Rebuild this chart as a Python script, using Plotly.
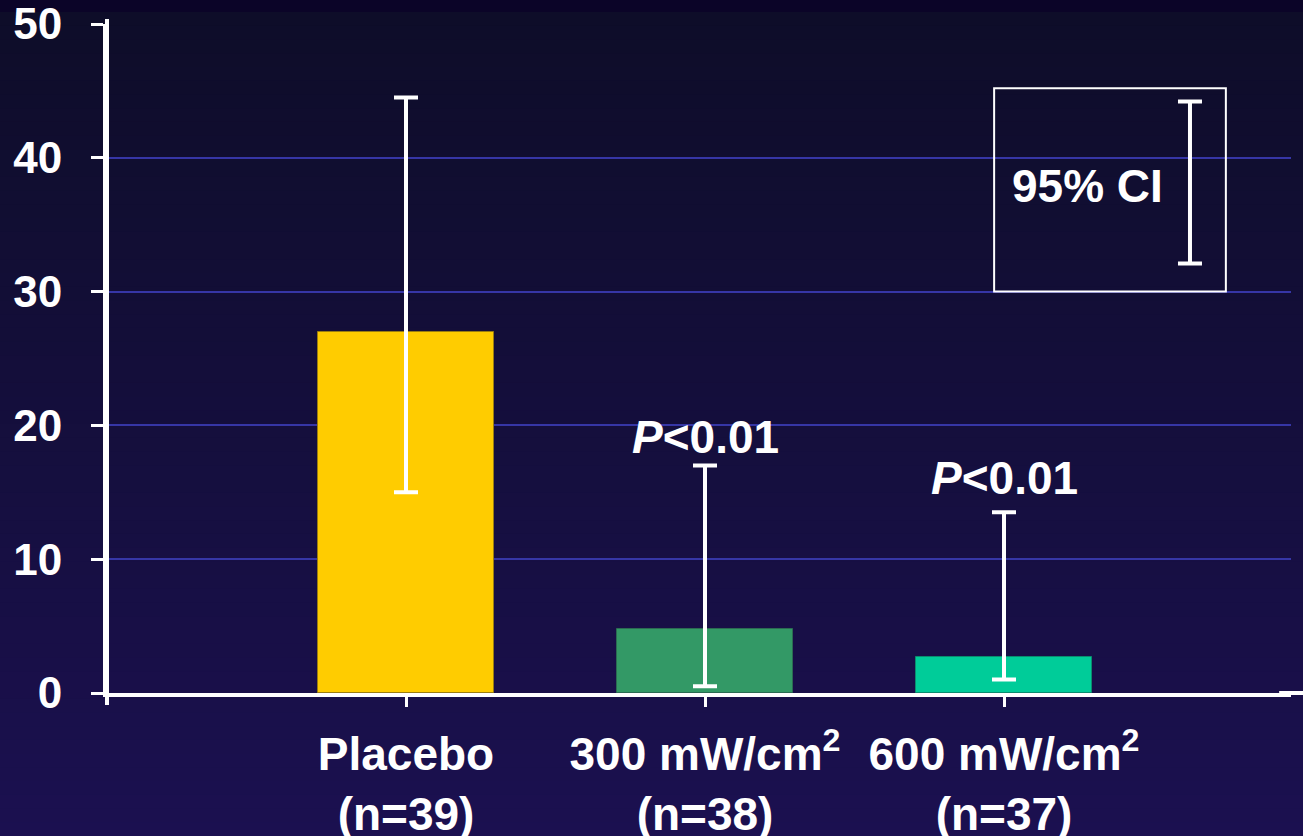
import plotly.graph_objects as go

# ---- data ----
groups = ["Placebo", "300 mW/cm<sup>2</sup>", "600 mW/cm<sup>2</sup>"]
n_sizes = [39, 38, 37]
means = [27.0, 4.8, 2.7]
ci_low = [15.0, 0.5, 1.0]
ci_high = [44.5, 17.0, 13.5]
bar_colors = ["#FFCC00", "#339966", "#00CC99"]
bar_edges = ["#9a7d10", "#2b6b52", "#0b8c6e"]
p_labels = ["", "<i>P</i><0.01", "<i>P</i><0.01"]
p_label_y = [None, 19.1, 16.1]
y_ticks = [0, 10, 20, 30, 40, 50]
legend_ci = [32.1, 44.2]   # sample CI bar in the key box
legend_box = [30.0, 45.2]

x_pos = [1, 2, 3]
W, H = 1303, 836
L, T, R, B = 107, 24, 12, 143
FONT = "Liberation Sans, Arial, sans-serif"

fig = go.Figure()
fig.add_trace(go.Bar(
    x=x_pos, y=means, width=0.59,
    marker=dict(color=bar_colors, line=dict(color=bar_edges, width=1)),
    error_y=dict(type="data", symmetric=False,
                 array=[h - m for h, m in zip(ci_high, means)],
                 arrayminus=[m - l for m, l in zip(means, ci_low)],
                 color="white", thickness=4, width=12),
    showlegend=False, hoverinfo="skip",
))

# key: sample 95% CI bar
mid = (legend_ci[0] + legend_ci[1]) / 2
fig.add_trace(go.Scatter(
    x=[3.622], y=[mid], mode="markers",
    marker=dict(size=1, color="rgba(0,0,0,0)"),
    error_y=dict(type="data", array=[legend_ci[1] - mid], color="white",
                 thickness=4, width=12),
    showlegend=False, hoverinfo="skip",
))

# background gradient (paper coords spanning the full figure)
ph = H - T - B
def py(pix):
    return (H - B - pix) / ph
def lerp(c0, c1, t):
    return "#%02x%02x%02x" % tuple(round(a + (b - a) * t) for a, b in zip(c0, c1))
c_top, c_bot = (0x0e, 0x0d, 0x29), (0x1b, 0x10, 0x50)
shapes = []
shapes.append(dict(type="rect", xref="paper", yref="paper", x0=-0.2, x1=1.2,
                   y0=py(12), y1=py(-2), fillcolor="#0b0428", line_width=0, layer="below"))
nb = 60
for i in range(nb):
    p0 = 12 + (H - 12) * i / nb
    p1 = 12 + (H - 12) * (i + 1) / nb + 1
    shapes.append(dict(type="rect", xref="paper", yref="paper", x0=-0.2, x1=1.2,
                       y0=py(p1), y1=py(p0), fillcolor=lerp(c_top, c_bot, i / (nb - 1)),
                       line_width=0, layer="below"))
# x-axis line extension to the right edge
shapes.append(dict(type="line", xref="paper", yref="paper", x0=0.99, x1=1.02,
                   y0=0, y1=0, line=dict(color="white", width=4)))
# y-axis line slight extensions above the top tick and below the x axis
shapes.append(dict(type="line", xref="paper", yref="paper", x0=0, x1=0,
                   y0=py(705), y1=py(19), line=dict(color="white", width=4)))
# key box
shapes.append(dict(type="rect", xref="x", yref="y", x0=2.967, x1=3.742,
                   y0=legend_box[0], y1=legend_box[1], line=dict(color="white", width=2)))

annotations = []
for xp, lab, yv in zip(x_pos, p_labels, p_label_y):
    if lab:
        annotations.append(dict(x=xp, y=yv, xref="x", yref="y", text=lab, showarrow=False,
                                font=dict(family=FONT, size=46, color="white", weight="bold")))
annotations.append(dict(x=3.278, y=37.9, xref="x", yref="y", text="95% CI", showarrow=False,
                        font=dict(family=FONT, size=46, color="white", weight="bold")))

tick_text = [f"{g}<br>(n={n})" for g, n in zip(groups, n_sizes)]

fig.update_layout(
    width=W, height=H, autosize=False,
    margin=dict(l=L, r=R, t=T, b=B, pad=0, autoexpand=False),
    paper_bgcolor="#150f3e", plot_bgcolor="rgba(0,0,0,0)",
    shapes=shapes, annotations=annotations, bargap=0,
    xaxis=dict(range=[0, (W - R - L) / 299], tickvals=x_pos, ticktext=tick_text,
               showline=True, linecolor="white", linewidth=4, automargin=False,
               ticks="outside", ticklen=10, tickwidth=3, tickcolor="white",
               showgrid=False, zeroline=False, ticklabelstandoff=8,
               ticklabeloverflow="allow",
               tickfont=dict(family=FONT, size=46, color="white", weight="bold")),
    yaxis=dict(range=[0, 50], tickvals=y_ticks,
               showline=True, linecolor="white", linewidth=4, automargin=False,
               ticks="outside", ticklen=12, tickwidth=3, tickcolor="white",
               showgrid=True, gridcolor="#3636a6", gridwidth=2, zeroline=False,
               ticklabelstandoff=20, ticklabeloverflow="allow",
               tickfont=dict(family=FONT, size=44, color="white", weight="bold")),
)

fig.write_html("out.html", config={"responsive": False, "displayModeBar": False})
with open("out.html", encoding="utf-8") as f:
    html = f.read()
html = html.replace("<head>", "<head><style>html,body{margin:0;padding:0;overflow:hidden;background:#150f3e}</style>", 1)
with open("out.html", "w", encoding="utf-8") as f:
    f.write(html)
